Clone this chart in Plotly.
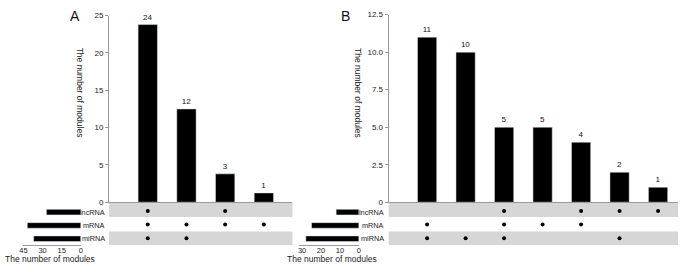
import plotly.graph_objects as go

W, H = 689, 272
def px(x): return x / W
def py(y): return 1 - y / H

sets = ["miRNA", "mRNA", "lncRNA"]  # bottom to top rows

# Panel A
a_bar_heights = [23.8, 12.5, 3.8, 1.25]
a_bar_labels = ["24", "12", "3", "1"]
a_members = [["lncRNA", "mRNA", "miRNA"], ["mRNA", "miRNA"], ["lncRNA", "mRNA"], ["mRNA"]]
a_set_sizes = [37, 42, 27]  # miRNA, mRNA, lncRNA

# Panel B
b_bar_heights = [11, 10, 5, 5, 4, 2, 1]
b_bar_labels = ["11", "10", "5", "5", "4", "2", "1"]
b_members = [["mRNA", "miRNA"], ["miRNA"], ["lncRNA", "mRNA", "miRNA"], ["mRNA"],
             ["lncRNA", "mRNA"], ["lncRNA", "miRNA"], ["lncRNA"]]
b_set_sizes = [28, 25, 12]

FONT = "Liberation Sans, Arial, sans-serif"
AX = "#999999"
BAND = "#d6d6d6"
TXT = "#222222"

fig = go.Figure()
layout = dict(width=W, height=H, margin=dict(l=0, r=0, t=0, b=0),
              paper_bgcolor="white", plot_bgcolor="rgba(0,0,0,0)",
              showlegend=False, font=dict(family=FONT, size=8, color=TXT))
shapes, annotations = [], []

def panel(idx, letter, heights, labels, members, set_sizes, xl, xr, ytop, xrange_main,
          set_dom, set_range, set_ticks, set_title_x, letter_x, ytitle_x, label_right,
          ymax, yticks, ytext):
    n = len(heights)
    k = 3 * idx
    xm, ym = f"x{k+1}", f"y{k+1}"
    xmat, ymat = f"x{k+2}", f"y{k+2}"
    xs, ys = f"x{k+3}", f"y{k+3}"
    cats = list(range(n))
    fig.add_trace(go.Bar(x=cats, y=heights, text=labels, textposition="outside",
                         textfont=dict(size=8, color="#111"), width=0.5,
                         marker=dict(color="black"), cliponaxis=False,
                         xaxis=xm, yaxis=ym))
    dx, dy = [], []
    for i, m in enumerate(members):
        for s in m:
            dx.append(i); dy.append(sets.index(s))
    fig.add_trace(go.Scatter(x=dx, y=dy, mode="markers",
                             marker=dict(color="black", size=4),
                             xaxis=xmat, yaxis=ymat))
    fig.add_trace(go.Bar(x=set_sizes, y=[0, 1, 2], orientation="h", width=0.42,
                         marker=dict(color="black"), xaxis=xs, yaxis=ys))

    def key(a):
        return a[0] + "axis" + (a[1:] if a[1:] != "1" else "")
    layout[key(xm)] = dict(domain=[px(xl), px(xr)], range=xrange_main, showticklabels=False,
                            showgrid=False, zeroline=False, showline=True, linecolor=AX, linewidth=1,
                            anchor=ym)
    layout[key(ym)] = dict(domain=[py(205), py(ytop)], range=[0, ymax], tickvals=yticks, ticktext=ytext,
                            showgrid=False, zeroline=False, showline=True, linecolor=AX, linewidth=1,
                            ticks="outside", ticklen=3, tickcolor=AX, anchor=xm,
                            tickfont=dict(size=8, color=TXT))
    layout[key(xmat)] = dict(domain=[px(xl), px(xr)], range=xrange_main, visible=False, anchor=ymat)
    layout[key(ymat)] = dict(domain=[py(249.4), py(206.9)], range=[-0.5, 2.5], visible=False, anchor=xmat)
    layout[key(xs)] = dict(domain=[px(set_dom[0]), px(set_dom[1])], range=set_range, tickvals=set_ticks,
                            showgrid=False, zeroline=False, showline=True, linecolor=AX, linewidth=1,
                            ticks="", anchor=ys, ticklabelstandoff=-2, tickfont=dict(size=7.5, color=TXT))
    layout[key(ys)] = dict(domain=[py(249.6), py(208.4)], range=[-0.5, 2.5], visible=False, anchor=xs)
    for (y0, y1) in ((205.3, 220.3), (235.3, 249.3)):
        shapes.append(dict(type="rect", xref=xmat + " domain", yref="paper", x0=0, x1=1,
                           y0=py(y1), y1=py(y0), fillcolor=BAND, line=dict(width=0), layer="below"))
    for r, s in enumerate(sets):
        annotations.append(dict(text=s, xref="paper", yref=ys, x=px(label_right), y=r,
                                xanchor="right", yanchor="middle", showarrow=False,
                                font=dict(size=7.3, color=TXT)))
    annotations.append(dict(text="The number of modules", xref="paper", yref="paper",
                            x=px(set_title_x), y=py(263.5), xanchor="center", yanchor="middle",
                            showarrow=False, font=dict(size=8.5, color=TXT)))
    annotations.append(dict(text="The number of modules", xref="paper", yref="paper",
                            x=px(ytitle_x), y=py(92), textangle=90, xanchor="center", yanchor="middle",
                            showarrow=False, font=dict(size=8.5, color=TXT)))
    annotations.append(dict(text=letter, xref="paper", yref="paper",
                            x=px(letter_x), y=py(12), xanchor="center", yanchor="middle",
                            showarrow=False, font=dict(size=14, color="#111")))

panel(0, "A", a_bar_heights, a_bar_labels, a_members, a_set_sizes,
      106, 291, 12, [-1.0, 3.74], (19, 77.5), [45.5, 0], [45, 30, 15, 0], 46, 72, 77, 104,
      25, [0, 5, 10, 15, 20, 25], ["0", "5", "10", "15", "20", "25"])
panel(1, "B", b_bar_heights, b_bar_labels, b_members, b_set_sizes,
      388, 680, 11, [-1.0, 6.52], (298, 358), [31.4, 0], [30, 20, 10, 0], 331, 344, 357, 385,
      12.5, [0, 2.5, 5, 7.5, 10, 12.5], ["0", "2.5", "5.0", "7.5", "10.0", "12.5"])

layout["shapes"] = shapes
layout["annotations"] = annotations
fig.update_layout(**layout)
fig.write_html("out.html", config={"displayModeBar": False},
               post_script="document.body.style.margin='0px';")
